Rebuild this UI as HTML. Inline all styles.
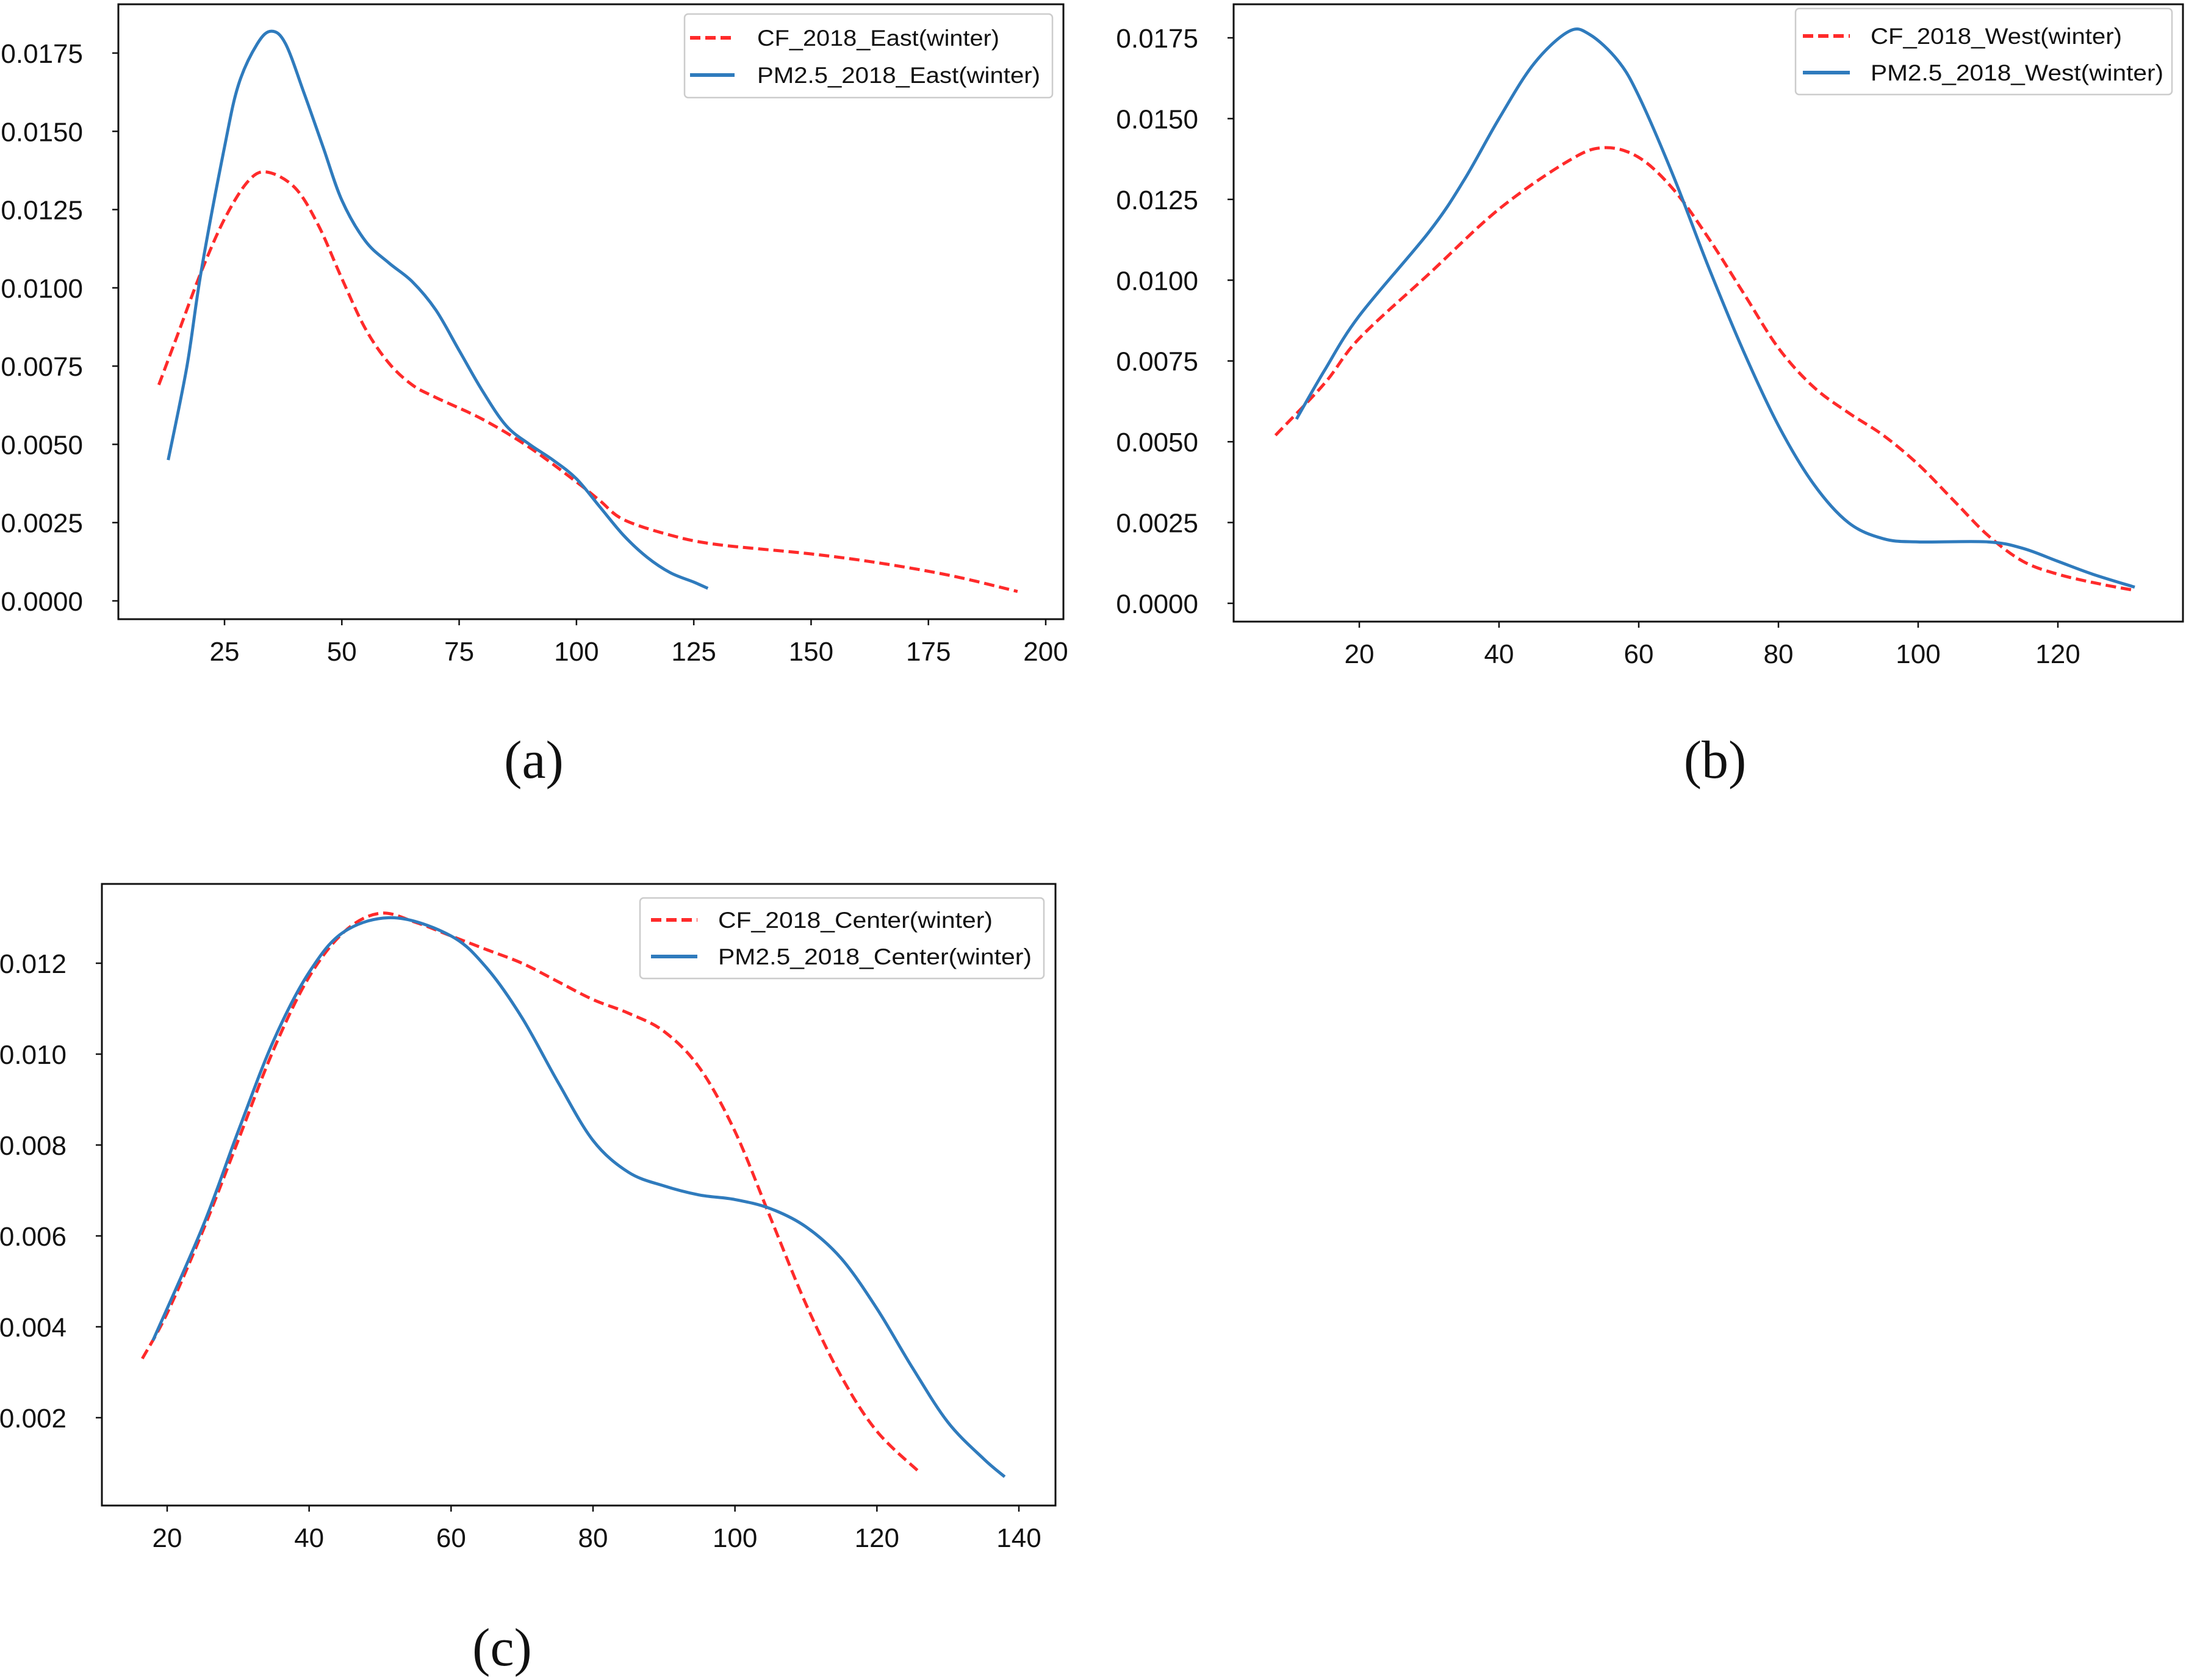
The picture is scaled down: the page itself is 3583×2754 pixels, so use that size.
<!DOCTYPE html>
<html><head><meta charset="utf-8"><style>
html,body{margin:0;padding:0;background:#fff;}
svg{display:block;}
text{font-family:"Liberation Sans","DejaVu Sans",sans-serif;fill:#111;}
</style></head><body>
<svg id="fig" width="3583" height="2754" viewBox="0 0 3583 2754" xmlns="http://www.w3.org/2000/svg">
<rect width="3583" height="2754" fill="#fff"/>
<text x="875" y="1275" font-size="88" text-anchor="middle" style="font-family:'Liberation Serif',serif">(a)</text>
<text x="2811" y="1275" font-size="88" text-anchor="middle" style="font-family:'Liberation Serif',serif">(b)</text>
<text x="823" y="2730" font-size="88" text-anchor="middle" style="font-family:'Liberation Serif',serif">(c)</text>
</svg>
<script>
// Panel (a) East
const aCfX=[11,15,20,25,30,34,40,45,50,55,60,65,70,80,90,100,105,110,120,130,150,165,180,194];
const aCfY=[.0069,.0085,.0105,.0122,.0134,.0137,.0132,.0120,.0103,.0087,.0076,.0069,.0065,.0058,.0049,.0038,.0032,.0026,.0021,.0018,.0015,.0012,.0008,.0003];
const aPmX=[13,17,20,25,28,32,35,38,42,46,50,55,60,65,70,75,80,85,90,95,100,105,110,115,120,125,128];
const aPmY=[.0045,.0075,.0105,.0145,.0165,.0178,.0182,.0178,.0162,.0145,.0128,.0115,.0108,.0102,.0093,.0080,.0067,.0056,.0050,.0045,.0039,.0030,.0021,.0014,.0009,.0006,.0004];
const aXTicks=[25,50,75,100,125,150,175,200];
const aYTicks=[0,0.0025,0.005,0.0075,0.01,0.0125,0.015,0.0175];
const aYLabels=["0.0000","0.0025","0.0050","0.0075","0.0100","0.0125","0.0150","0.0175"];
const aLegend=["CF_2018_East(winter)","PM2.5_2018_East(winter)"];
// Panel (b) West
const bCfX=[8,15,20,30,40,50,55,60,65,70,75,80,85,90,95,100,105,110,115,120,126,131];
const bCfY=[.0052,.0068,.0082,.0102,.0122,.0137,.0141,.0138,.0128,.0113,.0096,.0079,.0067,.0059,.0052,.0043,.0032,.0021,.0013,.0009,.0006,.0004];
const bPmX=[11,15,20,30,35,40,45,50,53,57,60,65,70,75,80,85,90,95,100,110,115,120,125,131];
const bPmY=[.0057,.0072,.0089,.0115,.0131,.0150,.0167,.0177,.0176,.0168,.0157,.0132,.0104,.0078,.0055,.0037,.0025,.0020,.0019,.0019,.0017,.0013,.0009,.0005];
const bXTicks=[20,40,60,80,100,120];
const bYTicks=[0,0.0025,0.005,0.0075,0.01,0.0125,0.015,0.0175];
const bYLabels=["0.0000","0.0025","0.0050","0.0075","0.0100","0.0125","0.0150","0.0175"];
const bLegend=["CF_2018_West(winter)","PM2.5_2018_West(winter)"];
// Panel (c) Center
const cCfX=[16.5,20,25,30,35,40,45,50,55,60,65,70,75,80,85,90,95,100,105,110,115,120,126];
const cCfY=[.0033,.0043,.0061,.0081,.0101,.0117,.0127,.0131,.0129,.0126,.0123,.0120,.0116,.0112,.0109,.0105,.0097,.0083,.0064,.0045,.0029,.0017,.0008];
const cPmX=[18,25,30,35,40,45,52,60,65,70,75,80,85,90,95,100,105,110,115,120,125,130,135,138];
const cPmY=[.0037,.0062,.0083,.0103,.0118,.0127,.0130,.0126,.0119,.0108,.0094,.0081,.0074,.0071,.0069,.0068,.0066,.0062,.0055,.0044,.0031,.0019,.0011,.0007];
const cXTicks=[20,40,60,80,100,120,140];
const cYTicks=[0.002,0.004,0.006,0.008,0.010,0.012];
const cYLabels=["0.002","0.004","0.006","0.008","0.010","0.012"];
const cLegend=["CF_2018_Center(winter)","PM2.5_2018_Center(winter)"];

const NS="http://www.w3.org/2000/svg";
const fig=document.getElementById('fig');
function mk(tag,attrs,parent){const e=document.createElementNS(NS,tag);for(const k in attrs)e.setAttribute(k,attrs[k]);(parent||fig).appendChild(e);return e;}
function smooth(pts){let d=`M${pts[0][0]},${pts[0][1]}`;for(let i=0;i<pts.length-1;i++){const p0=pts[Math.max(0,i-1)],p1=pts[i],p2=pts[i+1],p3=pts[Math.min(pts.length-1,i+2)];const c1=[p1[0]+(p2[0]-p0[0])/6,p1[1]+(p2[1]-p0[1])/6],c2=[p2[0]-(p3[0]-p1[0])/6,p2[1]-(p3[1]-p1[1])/6];d+=` C${c1[0]},${c1[1]} ${c2[0]},${c2[1]} ${p2[0]},${p2[1]}`;}return d;}

function panel(id,cfg){
  const g=mk('g',{});
  
  
  const sx=v=>cfg.x0px+(v-cfg.x0)*(cfg.x1px-cfg.x0px)/(cfg.x1-cfg.x0);
  const sy=v=>cfg.y0px+(v-cfg.y0)*(cfg.y1px-cfg.y0px)/(cfg.y1-cfg.y0);
  cfg.xTicks.forEach(t=>{
    const l=mk('line',{x1:sx(t),x2:sx(t),y1:cfg.B,y2:cfg.B+10,stroke:'#111','stroke-width':2.5},g);
     
    const tx=mk('text',{x:sx(t),y:cfg.B+68,'font-size':44,'text-anchor':'middle'},g);
     
    tx.textContent=t;
  });
  cfg.yTicks.forEach((t,i)=>{
    const l=mk('line',{x1:cfg.L-10,x2:cfg.L,y1:sy(t),y2:sy(t),stroke:'#111','stroke-width':2.5},g);
     
    const tx=mk('text',{x:cfg.L-58,y:sy(t)+16,'font-size':44,'text-anchor':'end'},g);
     
    tx.textContent=cfg.yLabels[i];
  });
  const cf=mk('path',{d:smooth(cfg.cfX.map((x,i)=>[sx(x),sy(cfg.cfY[i])])),fill:'none',stroke:'#ff2a2a','stroke-width':5,'stroke-dasharray':'17 8'},g);
   
  const pm=mk('path',{d:smooth(cfg.pmX.map((x,i)=>[sx(x),sy(cfg.pmY[i])])),fill:'none',stroke:'#2f7bbd','stroke-width':5,'stroke-linejoin':'round'},g);
   
  const fr=mk('rect',{x:cfg.L,y:cfg.T,width:cfg.R-cfg.L,height:cfg.B-cfg.T,fill:'none',stroke:'#111','stroke-width':3},g);
   
  const lg=mk('g',{},g);
   
  const lb=cfg.leg;
  mk('rect',{x:lb.x,y:lb.y,width:lb.w,height:lb.h,rx:6,fill:'#fff',stroke:'#ccc','stroke-width':2.5},lg);
  const styles=[{stroke:'#ff2a2a','stroke-dasharray':'17 8'},{stroke:'#2f7bbd'}];
  cfg.legend.forEach((s,i)=>{
    const e=mk('g',{},lg);
     
    mk('line',Object.assign({x1:lb.lx1,x2:lb.lx2,y1:lb.rows[i],y2:lb.rows[i],'stroke-width':6},styles[i]),e);
    const t=mk('text',{x:lb.tx,y:lb.rows[i]+13,'font-size':37,textLength:lb.tl[i],lengthAdjust:'spacingAndGlyphs'},e);
    t.textContent=s;
  });
}
panel('a',{L:194,R:1743,T:7,B:1015,x0:25,x1:200,x0px:368,x1px:1714,y0:0,y1:0.0175,y0px:985,y1px:87,
  xTicks:aXTicks,yTicks:aYTicks,yLabels:aYLabels,cfX:aCfX,cfY:aCfY,pmX:aPmX,pmY:aPmY,legend:aLegend,
  leg:{x:1122,y:23,w:603,h:137,lx1:1131,lx2:1204,tx:1241,rows:[62,123],tl:[397,464]}});
panel('b',{L:2022,R:3578,T:7,B:1019,x0:20,x1:120,x0px:2228,x1px:3373,y0:0,y1:0.0175,y0px:989,y1px:62,
  xTicks:bXTicks,yTicks:bYTicks,yLabels:bYLabels,cfX:bCfX,cfY:bCfY,pmX:bPmX,pmY:bPmY,legend:bLegend,
  leg:{x:2943,y:14,w:617,h:141,lx1:2955,lx2:3032,tx:3066,rows:[59,119],tl:[412,480]}});
panel('c',{L:167,R:1730,T:1449,B:2468,x0:20,x1:140,x0px:274,x1px:1670,y0:0.002,y1:0.012,y0px:2324,y1px:1579,
  xTicks:cXTicks,yTicks:cYTicks,yLabels:cYLabels,cfX:cCfX,cfY:cCfY,pmX:cPmX,pmY:cPmY,legend:cLegend,
  leg:{x:1049,y:1472,w:662,h:132,lx1:1067,lx2:1143,tx:1177,rows:[1508,1568],tl:[450,514]}});
</script>
</body></html>
